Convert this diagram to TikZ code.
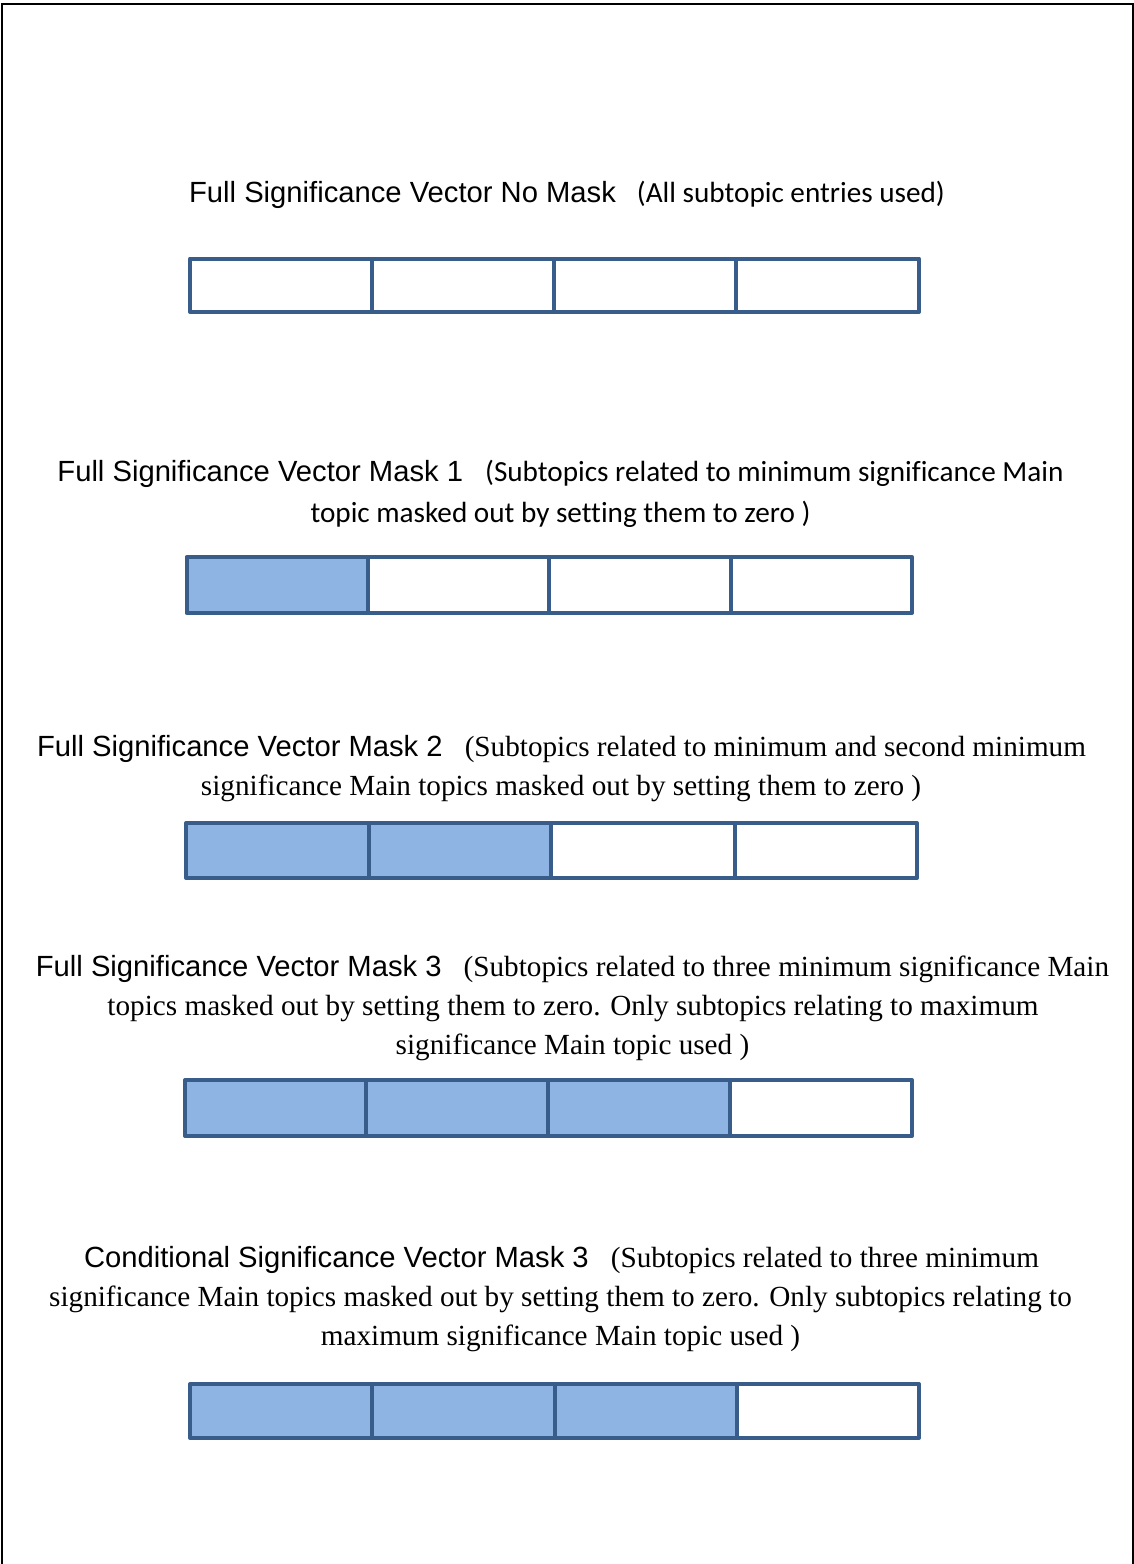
\documentclass[tikz,border=0pt]{standalone}
\usepackage{fontspec}
\newfontfamily\hdrfont[Ligatures=NoCommon]{Liberation Sans}
\newfontfamily\calfont[Ligatures=NoCommon]{Carlito}
\newfontfamily\tmsfont[Ligatures=NoCommon]{Liberation Serif}
\definecolor{cellline}{HTML}{385D8A}
\definecolor{cellfill}{HTML}{8EB4E3}
\newcommand{\txtsize}{\fontsize{29.2}{39}\selectfont}
\begin{document}
\begin{tikzpicture}[x=1pt,y=-1pt,
  lbl/.style={anchor=base,inner sep=0pt,font=\txtsize},
  cellbox/.style={inner sep=0pt,outer sep=0pt},
  cellborder/.style={draw=cellline,line width=4pt,line join=round}]
\useasboundingbox (0,0) rectangle (1134,1564);
% page frame, open at the bottom
\draw[line width=2pt] (1.5,1564) -- (1.5,4) -- (1133,4) -- (1133,1564);

% #1 row name, #2 ytop, #3 ybottom, #4 list of cell edges, #5 number of filled cells
\newcommand{\vecrow}[5]{%
  \foreach \xa/\xb [count=\k] in {#4} {
    \pgfmathsetmacro{\cw}{\xb-\xa}
    \pgfmathsetmacro{\ch}{#3-#2}
    \ifnum\k>#5\relax\def\fc{white}\else\def\fc{cellfill}\fi
    \node[cellbox,fill=\fc,minimum width=\cw pt,minimum height=\ch pt]
      (#1\k) at ({(\xa+\xb)/2},{(#2+#3)/2}) {};
  }
  \foreach \k in {1,...,4} {
    \draw[cellborder] (#1\k.north west) rectangle (#1\k.south east);
  }
}

% ---- Full vector, no mask
\node[lbl] (t0) at (567,202) {{\hdrfont Full Significance Vector No Mask}\hspace{21pt}{\calfont (All subtopic entries used)}};
\vecrow{a}{258.5}{312}{190/372,372/554,554/736,736/919}{0}

% ---- Mask 1
\node[lbl] (t1a) at (560.5,481) {{\hdrfont Full Significance Vector Mask 1}\hspace{22pt}{\calfont (Subtopics related to minimum significance Main}};
\node[lbl] (t1b) at (560.5,522) {\calfont topic masked out by setting them to zero )};
\vecrow{b}{557}{613}{186.5/368,368/549,549/731,731/912}{1}

% ---- Mask 2
\node[lbl] (t2a) at (561.5,756) {{\hdrfont Full Significance Vector Mask 2}\hspace{22pt}{\tmsfont (Subtopics related to minimum and second minimum}};
\node[lbl] (t2b) at (561,795) {\tmsfont significance Main topics masked out by setting them to zero )};
\vecrow{c}{823}{878}{186/369,369/551,551/735,735/917}{2}

% ---- Mask 3
\node[lbl] (t3a) at (572.5,976) {{\hdrfont Full Significance Vector Mask 3}\hspace{22pt}{\tmsfont (Subtopics related to three minimum significance Main}};
\node[lbl] (t3b) at (573,1015) {\tmsfont topics masked out by setting them to zero. Only subtopics relating to maximum};
\node[lbl] (t3c) at (572.5,1054) {\tmsfont significance Main topic used )};
\vecrow{d}{1080}{1136}{185/366,366/548,548/730,730/912}{3}

% ---- Conditional mask 3
\node[lbl] (t4a) at (561.5,1267) {{\hdrfont Conditional Significance Vector Mask 3}\hspace{22pt}{\tmsfont (Subtopics related to three minimum}};
\node[lbl] (t4b) at (560.5,1306) {\tmsfont significance Main topics masked out by setting them to zero. Only subtopics relating to};
\node[lbl] (t4c) at (560.5,1345) {\tmsfont maximum significance Main topic used )};
\vecrow{e}{1384}{1438}{190/372,372/555,555/737,737/919}{3}
\end{tikzpicture}
\end{document}
